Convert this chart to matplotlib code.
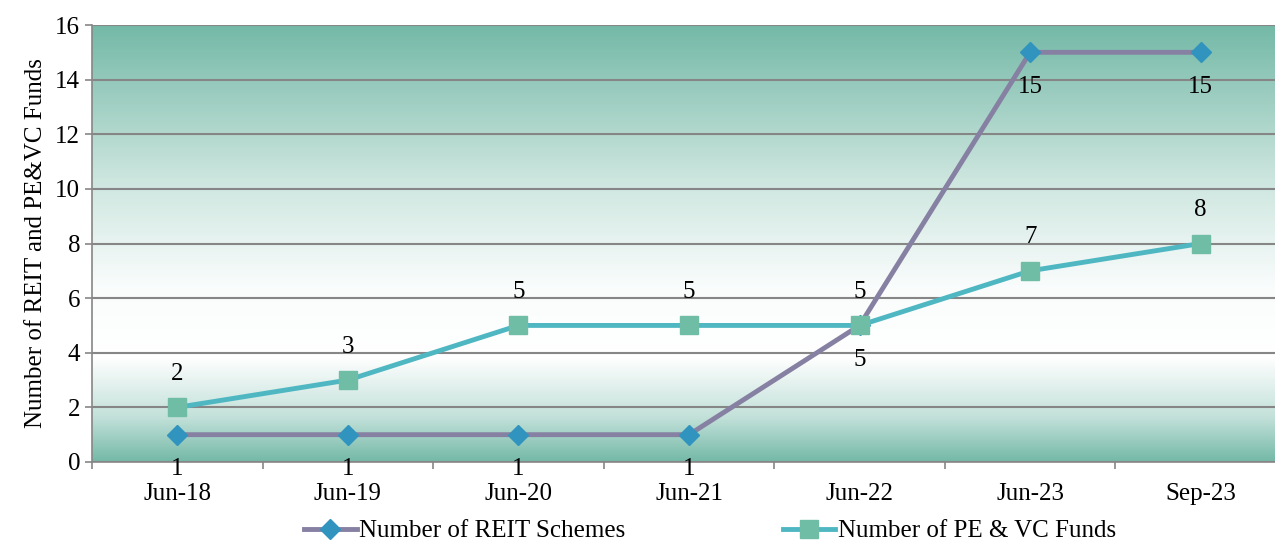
import numpy as np
import matplotlib.pyplot as plt
from matplotlib.colors import LinearSegmentedColormap

# chart data
periods = ["Jun-18", "Jun-19", "Jun-20", "Jun-21", "Jun-22", "Jun-23", "Sep-23"]
reit_schemes = [1, 1, 1, 1, 5, 15, 15]
pe_vc_funds = [2, 3, 5, 5, 5, 7, 8]

plt.rcParams['font.family'] = ['Liberation Serif', 'DejaVu Serif']
fs = 18

fig = plt.figure(figsize=(12.75, 5.41), dpi=100)
ax = fig.add_axes([92 / 1275, 1 - 462 / 541, 1194 / 1275, 437 / 541])

x = np.arange(len(periods))

# background gradient: teal at top and bottom, white in the middle
teal = (0.455, 0.725, 0.655)
cmap = LinearSegmentedColormap.from_list(
    "bg", [(0.0, teal), (0.10, (0.76, 0.88, 0.85)), (0.24, (1, 1, 1)),
           (0.40, (0.98, 0.99, 0.99)), (0.65, (0.80, 0.90, 0.87)), (1.0, teal)])
grad = np.linspace(0, 1, 256).reshape(-1, 1)
ax.imshow(grad, cmap=cmap, aspect="auto", extent=(-0.5, 6.5, 0, 16),
          origin="lower", zorder=0)

ax.set_xlim(-0.5, 6.5)
ax.set_ylim(0, 16)
ax.set_yticks(range(0, 17, 2))
ax.grid(axis="y", color="#868686", linewidth=1.5, zorder=1)

ax.plot(x, reit_schemes, color="#8680A2", linewidth=3.5, marker="D",
        markersize=10, markerfacecolor="#3194BF", markeredgecolor="#3194BF",
        label="Number of REIT Schemes", zorder=3)
ax.plot(x, pe_vc_funds, color="#4FB7C2", linewidth=3.5, marker="s",
        markersize=13, markerfacecolor="#70BDA6", markeredgecolor="#70BDA6",
        label="Number of PE & VC Funds", zorder=3)

# data labels
for xi, v in zip(x, reit_schemes):
    ax.annotate(str(v), (xi, v), xytext=(0, -25), textcoords="offset points",
                ha="center", va="center", fontsize=fs, annotation_clip=False)
for xi, v in zip(x, pe_vc_funds):
    ax.annotate(str(v), (xi, v), xytext=(0, 24), textcoords="offset points",
                ha="center", va="center", fontsize=fs)

ax.set_xticks(x)
ax.set_xticklabels(periods, fontsize=fs)
ax.set_xticks(np.arange(-0.5, 7, 1), minor=True)
ax.tick_params(axis="x", which="major", length=0, pad=15)
ax.tick_params(axis="x", which="minor", length=5, color="#868686", width=1.2)
ax.tick_params(axis="y", labelsize=fs, length=5, color="#868686", width=1.2)

for s in ["top", "right"]:
    ax.spines[s].set_visible(False)
ax.spines["left"].set_color("#868686")
ax.spines["bottom"].set_color("#868686")
ax.spines["left"].set_linewidth(1.2)
ax.spines["bottom"].set_linewidth(1.2)

ax.set_ylabel("Number of REIT and PE&VC Funds", fontsize=fs, labelpad=6)

fig.legend(loc="center", bbox_to_anchor=(0.557, 1 - 531 / 541), ncol=2,
           frameon=False, fontsize=fs, columnspacing=6.3, handlelength=2.1,
           handletextpad=0.1)

fig.savefig("out.png", dpi=100)
